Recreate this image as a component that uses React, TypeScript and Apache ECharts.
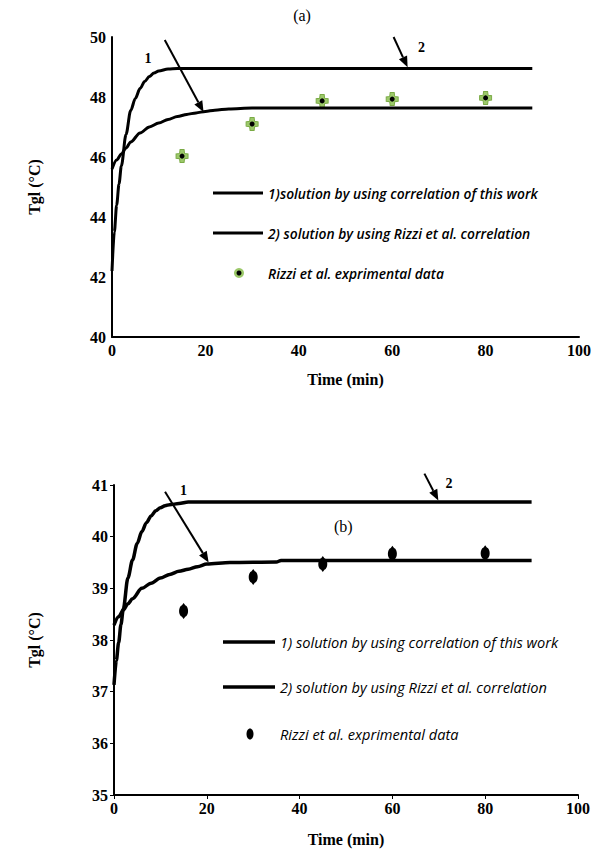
import React, { useEffect, useRef } from "react";
import * as echarts from "echarts";

// ---------- data (a) ----------
const timeA1 = [0, 0.5, 1, 1.5, 2, 3, 4, 5, 6, 7, 8, 9, 10, 12, 14, 90];
const valA1 = [42.2, 43.5, 44.4, 45.1, 45.7, 46.75, 47.55, 47.95, 48.28, 48.52, 48.68, 48.8, 48.87, 48.93, 48.95, 48.95];
const timeA2 = [0, 1, 2, 3, 4, 6, 8, 10, 12, 14, 16, 18, 20, 22, 25, 30, 90];
const valA2 = [45.6, 45.9, 46.1, 46.3, 46.5, 46.8, 47.0, 47.13, 47.25, 47.35, 47.42, 47.47, 47.52, 47.56, 47.6, 47.63, 47.63];
const expTimeA = [15, 30, 45, 60, 80];
const expValA = [46.03, 47.1, 47.87, 47.93, 47.97];

// ---------- data (b) ----------
const timeB1 = [0, 0.5, 1, 1.5, 2, 3, 4, 5, 6, 7, 8, 9, 10, 11, 12, 14, 16, 90];
const valB1 = [37.13, 37.6, 37.95, 38.3, 38.6, 39.2, 39.55, 39.87, 40.1, 40.27, 40.4, 40.5, 40.56, 40.6, 40.62, 40.64, 40.67, 40.67];
const timeB2 = [0, 1, 2, 3, 4, 6, 8, 10, 12, 14, 16, 18, 20, 25, 35, 36, 90];
const valB2 = [38.29, 38.45, 38.58, 38.7, 38.8, 39.0, 39.1, 39.2, 39.27, 39.33, 39.37, 39.42, 39.47, 39.5, 39.51, 39.54, 39.54];
const expTimeB = [15, 30, 45, 60, 80];
const expValB = [38.56, 39.22, 39.47, 39.67, 39.68];

// ---------- texts ----------
const legendA = [
  "1)solution by using correlation of this work",
  "2) solution by using Rizzi et al. correlation",
  "Rizzi et al. exprimental data",
];
const legendB = [
  "1) solution by using correlation of this work",
  "2) solution by using Rizzi et al. correlation",
  "Rizzi et al. exprimental data",
];
const yTitle = "Tgl (°C)";
const xTitle = "Time (min)";

// annotation anchors in data coordinates [t, value]
const arrowsA = [
  { from: [11.3, 49.9], to: [19.6, 47.5], label: "1", labelAt: [7.7, 49.3] },
  { from: [60.3, 50.0], to: [63.3, 48.99], label: "2", labelAt: [66.3, 49.65] },
];
const arrowsB = [
  { from: [11.0, 40.87], to: [20.4, 39.5], label: "1", labelAt: [15.0, 40.9] },
  { from: [66.9, 41.22], to: [69.9, 40.7], label: "2", labelAt: [72.2, 41.02] },
];

const pairs = (t: number[], v: number[]) => t.map((x, i) => [x, v[i]]);

const SERIF = "Liberation Serif";
const LEG = "Open Sans";

function axisX(gridIndex: number, ticks: boolean, gap: number) {
  return {
    type: "value",
    gridIndex,
    min: 0,
    max: 100,
    interval: 20,
    name: xTitle,
    nameLocation: "middle",
    nameGap: gap,
    nameTextStyle: { fontFamily: SERIF, fontWeight: "bold", fontSize: 16, color: "#000" },
    axisLine: { show: true, lineStyle: { color: "#000", width: 2 } },
    axisTick: { show: ticks, length: 4, lineStyle: { color: "#000", width: 1 } },
    axisLabel: { fontFamily: SERIF, fontWeight: "bold", fontSize: 16, color: "#000", margin: 5 },
    splitLine: { show: false },
  };
}
function axisY(gridIndex: number, min: number, max: number, interval: number, ticks: boolean, gap: number) {
  return {
    type: "value",
    gridIndex,
    min,
    max,
    interval,
    name: yTitle,
    nameLocation: "middle",
    nameGap: gap,
    nameRotate: 90,
    nameTextStyle: { fontFamily: SERIF, fontWeight: "bold", fontSize: 16, color: "#000" },
    axisLine: { show: true, lineStyle: { color: "#000", width: 2 } },
    axisTick: { show: ticks, length: 4, lineStyle: { color: "#000", width: 1 } },
    axisLabel: { fontFamily: SERIF, fontWeight: "bold", fontSize: 16, color: "#000", margin: 6 },
    splitLine: { show: false },
  };
}

const lineStyle = { color: "#000", width: 3 };
const dropPath =
  "path://M0,-9 L1.2,-6.5 C4,-5 4,5 1.2,6.5 L0,9 L-1.2,6.5 C-4,5 -4,-5 -1.2,-6.5 Z";
const crossPath =
  "path://M-2,-6 L2,-6 L2.5,-2.5 L6,-2 L6,2 L2.5,2.5 L2,6 L-2,6 L-2.5,2.5 L-6,2 L-6,-2 L-2.5,-2.5 Z";

const option: any = {
  animation: false,
  backgroundColor: "#fff",
  grid: [
    { left: 112, top: 37, width: 467, height: 300 },
    { left: 114, top: 485, width: 464, height: 310 },
  ],
  xAxis: [axisX(0, false, 34), axisX(1, true, 36)],
  yAxis: [axisY(0, 40, 50, 2, false, 70), axisY(1, 35, 41, 1, true, 72)],
  series: [
    { name: legendA[0], type: "line", xAxisIndex: 0, yAxisIndex: 0, data: pairs(timeA1, valA1), showSymbol: false, smooth: 0.3, smoothMonotone: "x", lineStyle },
    { name: legendA[1], type: "line", xAxisIndex: 0, yAxisIndex: 0, data: pairs(timeA2, valA2), showSymbol: false, smooth: 0.3, smoothMonotone: "x", lineStyle },
    { name: legendA[2], type: "scatter", xAxisIndex: 0, yAxisIndex: 0, data: pairs(expTimeA, expValA), symbol: crossPath, symbolSize: [12, 13], itemStyle: { color: "#9cc96a", borderColor: "#7aaa45", borderWidth: 1, opacity: 1 } },
    { name: legendA[2] + " ", type: "scatter", xAxisIndex: 0, yAxisIndex: 0, data: pairs(expTimeA, expValA), symbol: "circle", symbolSize: 5, itemStyle: { color: "#000", opacity: 1 } },
    { name: legendB[0], type: "line", xAxisIndex: 1, yAxisIndex: 1, data: pairs(timeB1, valB1), showSymbol: false, smooth: 0.3, smoothMonotone: "x", lineStyle: { color: "#000", width: 3.5 } },
    { name: legendB[1] + " ", type: "line", xAxisIndex: 1, yAxisIndex: 1, data: pairs(timeB2, valB2), showSymbol: false, smooth: 0.3, smoothMonotone: "x", lineStyle: { color: "#000", width: 3.5 } },
    { name: legendB[2] + "  ", type: "scatter", xAxisIndex: 1, yAxisIndex: 1, data: pairs(expTimeB, expValB), symbol: dropPath, symbolSize: [9, 16], itemStyle: { color: "#000", opacity: 1 } },
  ],
};

function arrowGraphics(p0: number[], p1: number[], lw: number) {
  const dx = p1[0] - p0[0];
  const dy = p1[1] - p0[1];
  const len = Math.sqrt(dx * dx + dy * dy);
  const ux = dx / len;
  const uy = dy / len;
  const hl = 11;
  const hw = 4.5;
  const bx = p1[0] - ux * hl;
  const by = p1[1] - uy * hl;
  return [
    { type: "line", shape: { x1: p0[0], y1: p0[1], x2: bx, y2: by }, style: { stroke: "#000", lineWidth: lw } },
    {
      type: "polygon",
      shape: { points: [[p1[0], p1[1]], [bx - uy * hw, by + ux * hw], [bx + uy * hw, by - ux * hw]] },
      style: { fill: "#000" },
    },
  ];
}

function txt(x: number, y: number, text: string, size: number, weight: string, family: string, style = "normal", align = "center") {
  return {
    type: "text",
    x,
    y,
    style: { text, fontSize: size, fontWeight: weight, fontFamily: family, fontStyle: style, fill: "#000", align, verticalAlign: "middle" },
  };
}

export default function App() {
  const ref = useRef<HTMLDivElement>(null);
  useEffect(() => {
    if (!ref.current) return;
    const chart = echarts.init(ref.current, null, { renderer: "svg" });
    chart.setOption(option);
    const g: any[] = [];
    const toPx = (gi: number, p: number[]) => chart.convertToPixel({ gridIndex: gi }, p) as number[];

    [arrowsA, arrowsB].forEach((list, gi) => {
      list.forEach((a) => {
        g.push(...arrowGraphics(toPx(gi, a.from), toPx(gi, a.to), 2));
        const lp = toPx(gi, a.labelAt);
        g.push(txt(lp[0], lp[1], a.label, 14, "bold", SERIF));
      });
    });

    // panel labels
    g.push(txt(302, 15, "(a)", 16, "normal", SERIF));
    const bp = toPx(1, [49.4, 40.19]);
    g.push(txt(bp[0], bp[1], "(b)", 16, "normal", SERIF));

    // legend (a)
    const la = { x0: 213, x1: 263, tx: 268, ys: [193, 233, 273], mx: 239 };
    la.ys.forEach((y, i) => {
      if (i < 2) g.push({ type: "line", shape: { x1: la.x0, y1: y, x2: la.x1, y2: y }, style: { stroke: "#000", lineWidth: 3 } });
      g.push(txt(la.tx, y, legendA[i], 13.8, "600", LEG, "italic", "left"));
    });
    g.push({ type: "circle", shape: { cx: la.mx, cy: 273, r: 5 }, style: { fill: "#9cc96a" } });
    g.push({ type: "circle", shape: { cx: la.mx, cy: 273, r: 2.5 }, style: { fill: "#000" } });

    // legend (b)
    const lb = { x0: 223, x1: 275, tx: 280, ys: [642, 687, 734], mx: 250 };
    lb.ys.forEach((y, i) => {
      if (i < 2) g.push({ type: "line", shape: { x1: lb.x0, y1: y, x2: lb.x1, y2: y }, style: { stroke: "#000", lineWidth: 3.5 } });
      g.push(txt(lb.tx, y, legendB[i], 14.6, "normal", LEG, "italic", "left"));
    });
    g.push({ type: "ellipse", shape: { cx: lb.mx, cy: 734, rx: 3.5, ry: 5.5 }, style: { fill: "#000" } });

    chart.setOption({ graphic: g });
    return () => chart.dispose();
  }, []);
  return (
    <div
      ref={ref}
      style={{ position: "fixed", left: 0, top: 0, width: 607, height: 859, background: "#fff" }}
    />
  );
}
